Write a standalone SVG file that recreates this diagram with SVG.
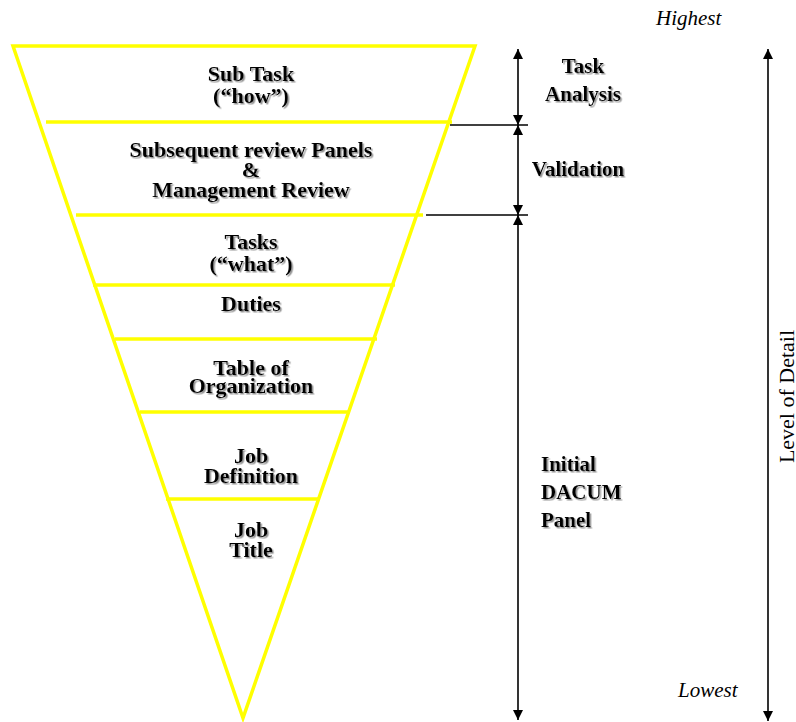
<svg xmlns="http://www.w3.org/2000/svg" width="796" height="722" viewBox="0 0 796 722">
<defs>
<filter id="sh" x="-10%" y="-30%" width="130%" height="160%">
<feDropShadow dx="1.5" dy="1.5" stdDeviation="0.6" flood-color="#888" flood-opacity="0.9"/>
</filter>
<marker id="ah" viewBox="0 0 10 10" refX="10" refY="5" markerWidth="10" markerHeight="10" markerUnits="userSpaceOnUse" orient="auto-start-reverse">
<path d="M0,0 L10,5 L0,10 Z" fill="#000"/>
</marker>
<style>
.y{stroke:#ffff00;stroke-width:3.5;fill:none}
.k{stroke:#000;stroke-width:1.6;fill:none}
</style>
</defs>
<g id="pyramid">
<polygon class="y" points="13,46 475,46 243,718"/>
<line class="y" x1="46" y1="122" x2="452" y2="122"/>
<line class="y" x1="76" y1="215" x2="423" y2="215"/>
<line class="y" x1="93" y1="285" x2="395" y2="285"/>
<line class="y" x1="115" y1="339" x2="377" y2="339"/>
<line class="y" x1="140" y1="412" x2="348" y2="412"/>
<line class="y" x1="166" y1="499" x2="319" y2="499"/>
</g>
<g id="labels" filter="url(#sh)" font-weight="bold" fill="#000">
<g text-anchor="middle" font-size="22">
<g id="subtask"><text font-family="Liberation Serif" x="251" y="81">Sub Task</text><text font-family="Liberation Serif" x="251" y="103">(“how”)</text></g>
<g id="review"><text font-family="Liberation Serif" x="251" y="157">Subsequent review Panels</text><text font-family="Liberation Serif" x="251" y="177">&amp;</text><text font-family="Liberation Serif" x="251" y="197">Management Review</text></g>
<g id="tasks"><text font-family="Liberation Serif" x="251" y="249">Tasks</text><text font-family="Liberation Serif" x="251" y="271">(“what”)</text></g>
<g id="duties"><text font-family="Liberation Serif" x="251" y="311">Duties</text></g>
<g id="toe"><text font-family="Liberation Serif" x="251" y="375">Table of</text><text font-family="Liberation Serif" x="251" y="393">Organization</text></g>
<g id="jobdef"><text font-family="Liberation Serif" x="251" y="463">Job</text><text font-family="Liberation Serif" x="251" y="483">Definition</text></g>
<g id="jobtitle"><text font-family="Liberation Serif" x="251" y="537">Job</text><text font-family="Liberation Serif" x="251" y="557">Title</text></g>
</g>
<g font-size="21">
<g id="taskanalysis" text-anchor="middle"><text font-family="Liberation Serif" x="583" y="73">Task</text><text font-family="Liberation Serif" x="583" y="101">Analysis</text></g>
<g id="validation" text-anchor="middle"><text font-family="Liberation Serif" x="578" y="176">Validation</text></g>
<g id="dacum"><text font-family="Liberation Serif" x="541" y="471">Initial</text><text font-family="Liberation Serif" x="541" y="499">DACUM</text><text font-family="Liberation Serif" x="541" y="527">Panel</text></g>
</g>
</g>
<g id="scale" fill="#000">
<text font-family="Liberation Serif" x="656" y="25" font-style="italic" font-size="21">Highest</text>
<text font-family="Liberation Serif" x="678" y="697" font-style="italic" font-size="21">Lowest</text>
<text font-family="Liberation Serif" x="396.5" y="794" font-size="22" text-anchor="middle" transform="rotate(-90 396.5 396.5)">Level of Detail</text>
</g>
<g id="connectors">
<line class="k" x1="450" y1="125" x2="528" y2="125"/>
<line class="k" x1="426" y1="215" x2="528" y2="215"/>
<line class="k" x1="518" y1="49" x2="518" y2="125" marker-start="url(#ah)" marker-end="url(#ah)"/>
<line class="k" x1="518" y1="125" x2="518" y2="215" marker-start="url(#ah)" marker-end="url(#ah)"/>
<line class="k" x1="518" y1="215" x2="518" y2="720" marker-start="url(#ah)" marker-end="url(#ah)"/>
<line class="k" x1="768" y1="49" x2="768" y2="721" marker-start="url(#ah)" marker-end="url(#ah)"/>
</g>
</svg>
